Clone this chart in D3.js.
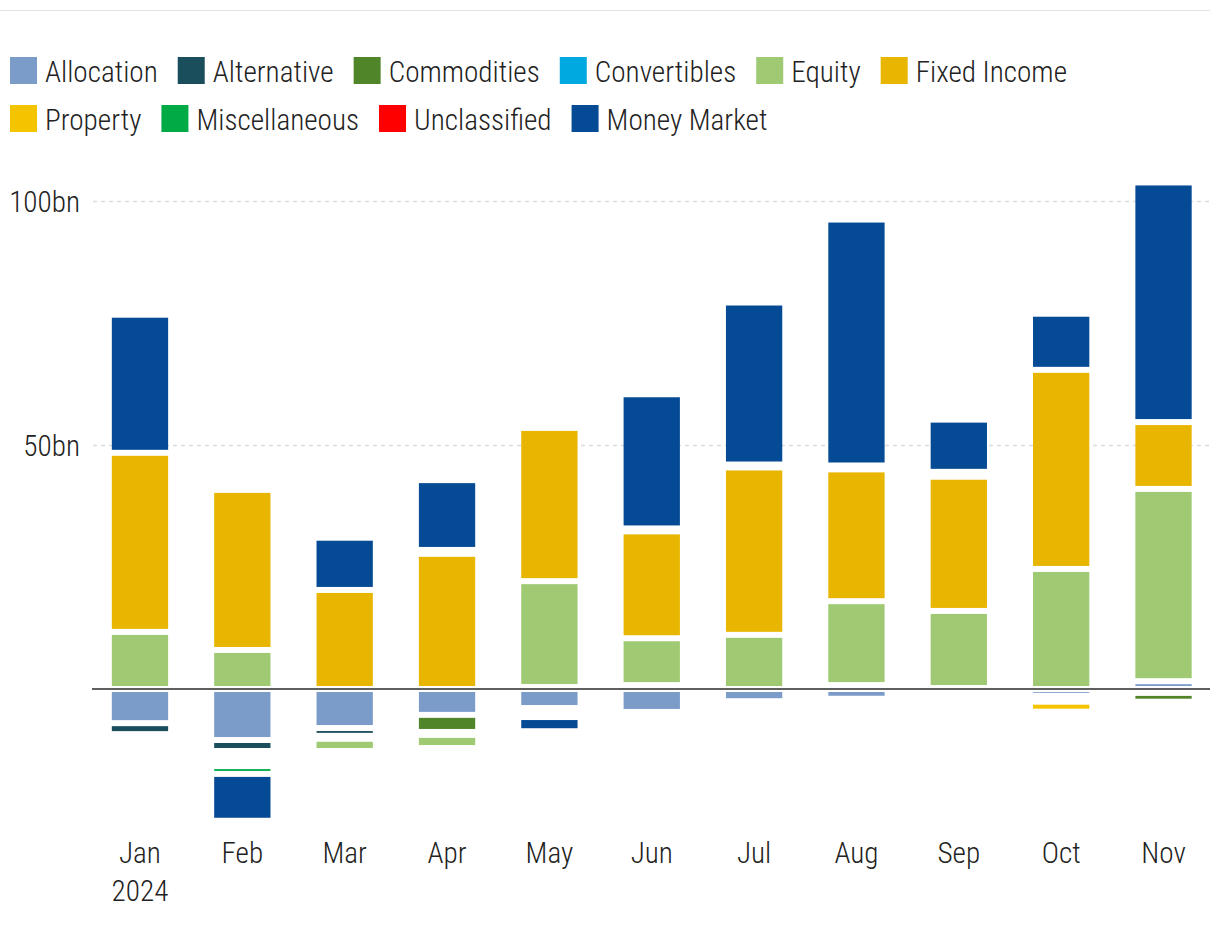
<!DOCTYPE html>
<html>
<head>
<meta charset="utf-8">
<script src="https://cdn.jsdelivr.net/npm/d3@7"></script>
<style>
  html, body { margin: 0; padding: 0; background: #fff; }
  svg text { font-family: "Liberation Sans Narrow", "Arial Narrow", "Roboto Condensed", Roboto, sans-serif; font-weight: 300; }
</style>
</head>
<body>
<svg id="chart" width="1220" height="932"></svg>
<script>
// ---- Data (bn) ----
const months = ["Jan", "Feb", "Mar", "Apr", "May", "Jun", "Jul", "Aug", "Sep", "Oct", "Nov"];
const yearLabel = ["2024", "", "", "", "", "", "", "", "", "", ""];
const seriesNames = ["Allocation", "Alternative", "Commodities", "Convertibles", "Equity",
  "Fixed Income", "Property", "Miscellaneous", "Unclassified", "Money Market"];
const seriesColors = ["#7b9bc9", "#1a4e5c", "#51852a", "#00a9e0", "#9fca73",
  "#e8b600", "#f5c400", "#00aa45", "#ff0000", "#044a94"];

const allocation    = [-7.0, -10.45, -8.0, -5.3, -3.9, -4.7, -2.5, -2.0, 0.2, -1.4, 1.6];
const alternative   = [-2.25, -2.25, -1.6, 0, -0.9, 0.8, 0, 0.8, 0, -1.2, -0.8];
const commodities   = [0, -1.0, -0.6, -3.5, 0.4, 0, 0, 0, 0, 0, -1.8];
const convertibles  = [0, -1.0, 0, -0.6, -0.95, 0, 0, 0, 0, 0, 0];
const equity        = [11.7, 8.0, -2.5, -2.7, 21.7, 9.6, 11.1, 17.2, 15.8, 24.6, 39.4];
const fixedIncome   = [36.7, 32.8, 20.3, 27.7, 31.4, 21.9, 34.3, 27.0, 27.5, 40.8, 13.7];
const property      = [0, -1.1, 0, 0.8, 0, 0.6, 0.6, 0.8, 1.0, -2.05, 0];
const miscellaneous = [0, -1.6, 0, 0, 0, 0, 0, 0, 0, 0, 0];
const unclassified  = [0, 0, 0, 0, 0, 0, 0, 0, 0, 0, 0];
const moneyMarket   = [28.3, -9.6, 10.7, 14.3, -2.9, 27.5, 33.2, 50.4, 10.7, 11.5, 49.1];

const yTicks = [50, 100];
const yTickLabels = ["50bn", "100bn"];

// ---- Build table ----
const seriesValues = [allocation, alternative, commodities, convertibles, equity,
  fixedIncome, property, miscellaneous, unclassified, moneyMarket];
const table = months.map((m, i) => {
  const row = { month: m };
  seriesNames.forEach((s, k) => row[s] = seriesValues[k][i]);
  return row;
});

const svg = d3.select("#chart");
const fontSize = 29.2;
const textColor = "#222";

// top rule
svg.append("line").attr("x1", 0).attr("x2", 1210).attr("y1", 10.5).attr("y2", 10.5)
  .attr("stroke", "#e3e3e3").attr("stroke-width", 1);

// ---- Scales ----
const x = d3.scaleBand().domain(months).range([88.8, 1214.7]).paddingInner(0.45).paddingOuter(0.225);
const y = d3.scaleLinear().domain([-30, 110]).range([689 + 30 * 4.88, 689 - 110 * 4.88]);

// ---- Gridlines ----
svg.append("g").selectAll("line").data(yTicks).join("line")
  .attr("x1", 93).attr("x2", 1210)
  .attr("y1", d => Math.round(y(d)) + 0.5).attr("y2", d => Math.round(y(d)) + 0.5)
  .attr("stroke", "#dcdcdc").attr("stroke-width", 1.5).attr("stroke-dasharray", "4,4");

// y labels
svg.append("g").selectAll("text").data(yTicks).join("text")
  .attr("x", 80).attr("y", d => y(d)).attr("dy", "0.36em")
  .attr("text-anchor", "end").attr("font-size", fontSize).attr("fill", textColor)
  .text((d, i) => yTickLabels[i]);

// ---- Stacked bars ----
const stack = d3.stack().keys(seriesNames).offset(d3.stackOffsetDiverging);
const stacked = stack(table);
const inset = 3;

const gBars = svg.append("g");
stacked.forEach((layer, k) => {
  gBars.append("g").attr("fill", seriesColors[k])
    .selectAll("rect")
    .data(layer.filter(d => Math.abs(y(d[0]) - y(d[1])) - 2 * inset > 0))
    .join("rect")
    .attr("x", d => x(d.data.month))
    .attr("width", x.bandwidth())
    .attr("y", d => Math.min(y(d[0]), y(d[1])) + inset)
    .attr("height", d => Math.abs(y(d[0]) - y(d[1])) - 2 * inset);
});

// zero axis line
svg.append("line").attr("x1", 92).attr("x2", 1210).attr("y1", y(0)).attr("y2", y(0))
  .attr("stroke", "#5f5f5f").attr("stroke-width", 2);

// ---- X axis labels ----
const xAxis = d3.axisBottom(x).tickSize(0).tickPadding(0);
const gx = svg.append("g").attr("transform", "translate(0,840)").call(xAxis);
gx.select(".domain").remove();
gx.selectAll(".tick text").remove();
gx.selectAll(".tick").each(function(m, i) {
  const t = d3.select(this).append("text").attr("text-anchor", "middle")
    .attr("font-size", fontSize).attr("fill", textColor);
  t.append("tspan").attr("x", 0).attr("y", 23).text(m);
  if (yearLabel[i]) t.append("tspan").attr("x", 0).attr("y", 61).text(yearLabel[i]);
});

// ---- Legend ----
const legend = svg.append("g");
let lx = 10, ly = 57;
const sq = 27, maxX = 1210;
seriesNames.forEach((name, k) => {
  const g = legend.append("g");
  const t = g.append("text").attr("font-size", fontSize).attr("fill", textColor).text(name);
  const w = t.node().getComputedTextLength();
  if (lx + sq + 8 + w > maxX) { lx = 10; ly += 48; }
  g.append("rect").attr("x", lx).attr("y", ly).attr("width", sq).attr("height", sq).attr("fill", seriesColors[k]);
  t.attr("x", lx + sq + 8).attr("y", ly + 25);
  lx += sq + 8 + w + 20;
});
</script>
</body>
</html>
